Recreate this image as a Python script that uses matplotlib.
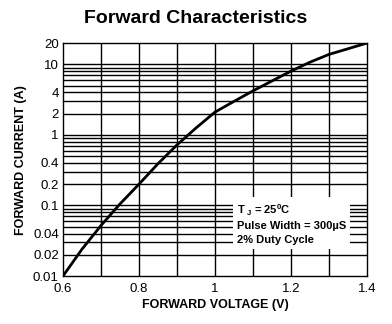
import numpy as np
import matplotlib
matplotlib.use("Agg")
import matplotlib.pyplot as plt
from matplotlib.ticker import FixedLocator, NullFormatter

plt.rcParams['font.family'] = ['Liberation Sans', 'DejaVu Sans']
plt.rcParams['mathtext.fontset'] = 'custom'
plt.rcParams['mathtext.bf'] = 'Liberation Sans:bold'
plt.rcParams['mathtext.rm'] = 'Liberation Sans:bold'

# Forward curve
voltage = [0.6, 0.65, 0.7, 0.75, 0.8, 0.85, 0.9, 0.95, 1.0, 1.05, 1.1, 1.15, 1.2, 1.25, 1.3, 1.35, 1.4]
current = [0.01, 0.024, 0.052, 0.105, 0.2, 0.39, 0.72, 1.25, 2.1, 2.98, 4.2, 5.8, 8.0, 10.7, 13.8, 16.6, 20]

x_ticks = [0.6, 0.8, 1.0, 1.2, 1.4]
x_labels = ["0.6", "0.8", "1", "1.2", "1.4"]
y_ticks = [0.01, 0.02, 0.04, 0.1, 0.2, 0.4, 1, 2, 4, 10, 20]
y_labels = ["0.01", "0.02", "0.04", "0.1", "0.2", "0.4", "1", "2", "4", "10", "20"]

fig = plt.figure(figsize=(3.92, 3.24), dpi=100)
ax = fig.add_axes([0.1607, 0.148, 0.775, 0.719])

ax.set_yscale('log')
ax.set_xlim(0.6, 1.4)
ax.set_ylim(0.01, 20)

# grid: every 0.1 V and every log minor step
hgrid = [m * d for d in (0.01, 0.1, 1) for m in range(2, 11)]
for g in hgrid:
    ax.axhline(g, color='black', lw=1.0, zorder=1)
for v in np.arange(0.7, 1.35, 0.1):
    ax.axvline(v, color='black', lw=1.0, zorder=1)

ax.plot(voltage, current, color='black', lw=2.0, zorder=4)

ax.set_xticks(x_ticks)
ax.set_xticklabels(x_labels)
ax.yaxis.set_major_locator(FixedLocator(y_ticks))
ax.set_yticklabels(y_labels)
ax.yaxis.set_minor_formatter(NullFormatter())
ax.tick_params(which='both', length=0, labelsize=9.5, pad=3)
ax.tick_params(axis='x', pad=5)

for s in ax.spines.values():
    s.set_linewidth(1.0)
    s.set_zorder(5)

ax.text(0.572, 0.225,
        "T$_{\\ \\mathbf{J}}$ = 25$^\\mathbf{0}$C\nPulse Width = 300\u00b5S\n2% Duty Cycle",
        transform=ax.transAxes, fontsize=8, fontweight='bold',
        va='center', ha='left', linespacing=1.45, zorder=3,
        bbox=dict(boxstyle='square,pad=0.35', fc='white', ec='none'))

ax.set_xlabel("FORWARD VOLTAGE (V)", fontsize=9, fontweight='bold', labelpad=3)
ax.set_ylabel("FORWARD CURRENT (A)", fontsize=9, fontweight='bold', labelpad=4)
fig.text(0.5, 0.942, "Forward Characteristics", fontsize=14, fontweight='bold',
         ha='center', va='center')

fig.savefig("out.png", dpi=100)
